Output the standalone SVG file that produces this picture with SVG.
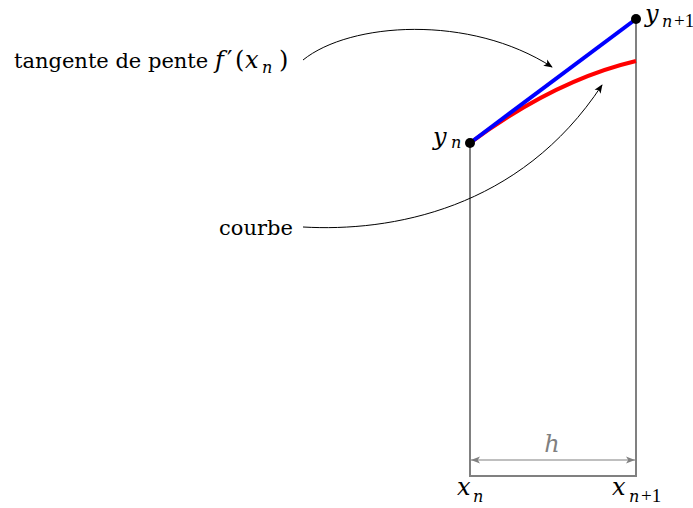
<svg xmlns="http://www.w3.org/2000/svg" width="693" height="508" viewBox="0 0 693 508">
<style>
text{font-family:"DejaVu Serif","Liberation Serif",serif;font-size:21px;fill:#000}
.it{font-style:italic;font-size:24px}
.m{font-size:24px}
.sub{font-size:16px;font-style:italic}
.subr{font-family:"Liberation Serif","DejaVu Serif",serif;font-size:19px}
.gray{stroke:#808080;stroke-width:2;fill:none}
.conn{stroke:#000;stroke-width:1;fill:none;marker-end:url(#ah)}
</style>
<defs>
<marker id="ah" viewBox="0 0 10 10" refX="9" refY="5" markerWidth="9" markerHeight="9" markerUnits="userSpaceOnUse" orient="auto"><path d="M0,1 L10,5 L0,9 L2.5,5 Z" fill="#000"/></marker>
<marker id="gh" viewBox="0 0 10 10" refX="10" refY="5" markerWidth="9" markerHeight="9" markerUnits="userSpaceOnUse" orient="auto-start-reverse"><path d="M0,1 L10,5 L0,9 L2.5,5 Z" fill="#808080"/></marker>
</defs>
<g id="frame">
<path class="gray" d="M470,143 V476 H636 V19"/>
</g>
<g id="curve"><path d="M470,143 Q555,80 636,61" stroke="#ff0000" stroke-width="4" fill="none"/></g>
<g id="tangent"><path d="M470,143 L636,19" stroke="#0000ff" stroke-width="4" fill="none"/></g>
<g id="yn">
<circle cx="470" cy="143" r="5" fill="#000"/>
<text x="433" y="145" class="it">y</text>
<text x="451" y="148" class="sub">n</text>
</g>
<g id="yn1">
<circle cx="636" cy="19" r="5" fill="#000"/>
<text x="645" y="22" class="it">y</text>
<text x="662" y="27" class="sub">n</text>
<text x="674" y="27" class="subr">+1</text>
</g>
<g id="h-dim">
<path class="gray" d="M471,460 H635" marker-start="url(#gh)" marker-end="url(#gh)" style="stroke-width:1.2"/>
<text x="552" y="452" class="it" text-anchor="middle" style="fill:#808080">h</text>
</g>
<g id="xn">
<text x="457" y="495" class="it">x</text>
<text x="473" y="502" class="sub">n</text>
</g>
<g id="xn1">
<text x="612" y="495" class="it">x</text>
<text x="629" y="502" class="sub">n</text>
<text x="641" y="502" class="subr">+1</text>
</g>
<g id="label-tangente">
<text x="14" y="68">tangente de pente</text>
<text x="215" y="68" class="it">f</text>
<text x="227" y="68" class="m">′</text>
<text x="235" y="68" class="m">(</text>
<text x="245" y="68" class="it">x</text>
<text x="262" y="73" class="sub">n</text>
<text x="279" y="68" class="m">)</text>
</g>
<g id="label-courbe"><text x="219" y="235">courbe</text></g>
<g id="connectors">
<path class="conn" d="M303,60 C350,22 470,14 552,67"/>
<path class="conn" d="M303,227 C390,232 520,210 602,85"/>
</g>
</svg>
